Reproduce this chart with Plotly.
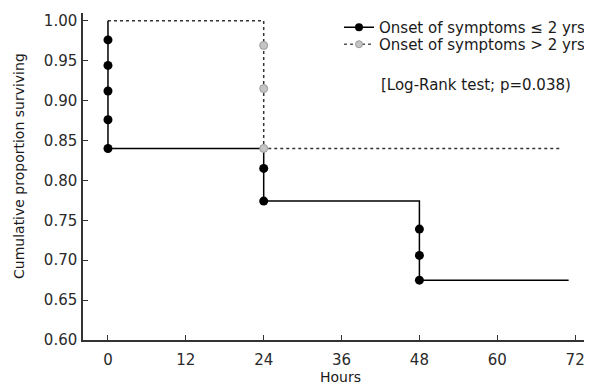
import plotly.graph_objects as go

# Step curve vertices (hours, cumulative proportion surviving)
le2_step_x = [0, 0, 24, 24, 48, 48, 71]
le2_step_y = [1.0, 0.840, 0.840, 0.774, 0.774, 0.675, 0.675]
le2_event_x = [0, 0, 0, 0, 0, 24, 24, 48, 48, 48]
le2_event_y = [0.976, 0.944, 0.912, 0.876, 0.840, 0.815, 0.774, 0.739, 0.706, 0.675]

gt2_step_x = [0, 24, 24, 70]
gt2_step_y = [1.0, 1.0, 0.840, 0.840]
gt2_event_x = [24, 24, 24]
gt2_event_y = [0.969, 0.915, 0.840]

x_ticks = [0, 12, 24, 36, 48, 60, 72]
y_ticks = [0.60, 0.65, 0.70, 0.75, 0.80, 0.85, 0.90, 0.95, 1.00]

FONT = "DejaVu Sans, Verdana, sans-serif"
TXT = "#1a1a1a"
TICK = "#2a2a2a"

# the page body adds an 8px margin; work in screen pixels and shift
OFF = 8
FW, FH = 592 - OFF, 384 - OFF
L, R, T, B = 83 - OFF, 592 - OFF, 13 - OFF, 340 - OFF
W, H = R - L, B - T
def px(x): return (x - OFF - L) / W
def py(y): return (B - (y - OFF)) / H

fig = go.Figure()

# dashed group (>2 yrs)
fig.add_trace(go.Scatter(x=gt2_step_x, y=gt2_step_y, mode="lines",
                         line=dict(color="#333333", width=1.5, dash="3px,3px"),
                         showlegend=False, hoverinfo="skip"))
# solid group (<=2 yrs)
fig.add_trace(go.Scatter(x=le2_step_x, y=le2_step_y, mode="lines",
                         line=dict(color="black", width=1.5),
                         showlegend=False, hoverinfo="skip"))
fig.add_trace(go.Scatter(x=le2_event_x, y=le2_event_y, mode="markers",
                         marker=dict(color="black", size=9, line=dict(width=0)),
                         showlegend=False))
fig.add_trace(go.Scatter(x=gt2_event_x, y=gt2_event_y, mode="markers",
                         marker=dict(color="#c4c4c4", size=8, line=dict(color="#9a9a9a", width=1)),
                         showlegend=False))

# legend entries
fig.add_trace(go.Scatter(x=[None], y=[None], mode="lines+markers",
                         name="Onset of symptoms \u2264 2 yrs", legend="legend",
                         line=dict(color="black", width=1.5),
                         marker=dict(color="black", size=8)))
fig.add_trace(go.Scatter(x=[None], y=[None], mode="lines+markers",
                         name="Onset of symptoms > 2 yrs", legend="legend2",
                         line=dict(color="#555555", width=1.5, dash="3px,3px"),
                         marker=dict(color="#c4c4c4", size=7, line=dict(color="#9a9a9a", width=1))))

fig.add_annotation(text="[Log-Rank test; p=0.038)", xref="paper", yref="paper",
                   x=px(379), y=py(85), xanchor="left", yanchor="middle",
                   showarrow=False, font=dict(family=FONT, size=15, color=TXT))
fig.add_annotation(text="Cumulative proportion surviving", xref="paper", yref="paper",
                   x=px(19), y=py(166), xanchor="center", yanchor="middle", textangle=-90,
                   showarrow=False, font=dict(family=FONT, size=14, color=TXT))
fig.add_annotation(text="Hours", xref="paper", yref="paper",
                   x=px(340), y=py(377), xanchor="center", yanchor="middle",
                   showarrow=False, font=dict(family=FONT, size=14, color=TXT))

leg = dict(xanchor="left", yanchor="top", bgcolor="rgba(0,0,0,0)",
           font=dict(family=FONT, size=15, color=TXT), itemwidth=30)

fig.update_layout(
    width=FW, height=FH,
    margin=dict(l=L, r=FW - R, t=T, b=FH - B),
    paper_bgcolor="white", plot_bgcolor="white",
    font=dict(family=FONT, size=15, color=TXT),
    legend=dict(x=px(339), y=py(11), **leg),
    legend2=dict(x=px(339), y=py(28), **leg),
    xaxis=dict(range=[-3.85, 74.6], tickvals=x_ticks, ticktext=[str(v) for v in x_ticks],
               showgrid=False, zeroline=False, showline=True, linecolor="#333333", linewidth=1.5,
               ticks="inside", ticklen=5, tickcolor="#333333", tickwidth=1.2,
               automargin=False, ticklabelstandoff=5,
               tickfont=dict(family=FONT, size=15, color=TICK)),
    yaxis=dict(range=[0.6, 1.0097], tickvals=y_ticks, ticktext=["%.2f" % v for v in y_ticks],
               showgrid=False, zeroline=False, showline=True, linecolor="#333333", linewidth=1.5,
               ticks="inside", ticklen=5, tickcolor="#333333", tickwidth=1.2,
               automargin=False, ticklabelstandoff=1,
               tickfont=dict(family=FONT, size=15, color=TICK)),
)

fig.write_html("out.html")
